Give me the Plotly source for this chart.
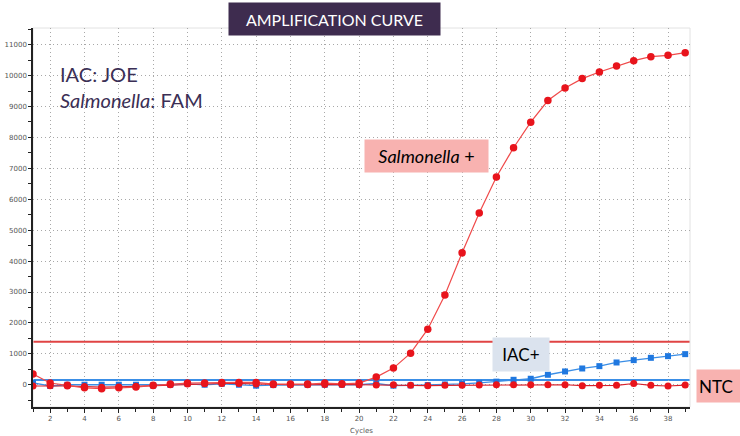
import plotly.graph_objects as go

cycles = list(range(1, 40))

salmonella_fam = [345, 55, -20, -100, -130, -100, -75, -20, 20, 55, 60, 75, 75, 75,
                  20, 20, 20, 55, 30, 55, 248, 538, 1022, 1796, 2903, 4268, 5558,
                  6720, 7667, 8495, 9194, 9602, 9903, 10118, 10312, 10484, 10613,
                  10655, 10742]

ntc_fam = [-40, -30, -40, -60, -80, -70, -50, -30, 0, 20, 30, 40, 40, 20, 0, 0, 0,
           10, 10, 0, -10, 0, -20, -30, -20, -20, -10, 0, 0, 0, 0, 0, -30, -20, -20,
           40, -20, -40, -10]

iac_joe = [60, -40, 0, 0, 0, 0, 0, -20, 0, 30, 0, 30, 0, -30, -10, 0, 0, 0, 0, 0,
           40, -30, -20, -10, 10, 30, 60, 100, 160, 194, 323, 430, 526, 602, 720,
           796, 871, 925, 990]

threshold_fam = 1390
threshold_joe = 150

y_ticks = list(range(0, 12000, 1000))
x_ticks = list(range(2, 40, 2))

RED = "#e8141c"
BLUE = "#1f78e0"
FONT = "Lato, 'Open Sans', sans-serif"

fig = go.Figure()

fig.add_trace(go.Scatter(x=cycles, y=iac_joe, mode="lines+markers", name="IAC+",
                         line=dict(color="#3a8ee6", width=1.3),
                         marker=dict(symbol="square", size=6, color=BLUE)))
fig.add_trace(go.Scatter(x=cycles, y=ntc_fam, mode="lines+markers", name="NTC",
                         line=dict(color="#d8202a", width=1.2),
                         marker=dict(symbol="circle", size=7, color=RED)))
fig.add_trace(go.Scatter(x=cycles, y=salmonella_fam, mode="lines+markers",
                         name="Salmonella +",
                         line=dict(color="#f04a4a", width=1.2),
                         marker=dict(symbol="circle", size=7.5, color=RED)))

# thresholds
fig.add_shape(type="line", xref="paper", x0=0, x1=1, yref="y",
              y0=threshold_fam, y1=threshold_fam,
              line=dict(color="#e04444", width=2), layer="below")
fig.add_shape(type="line", xref="paper", x0=0, x1=1, yref="y",
              y0=threshold_joe, y1=threshold_joe,
              line=dict(color="#3a8ee6", width=2), layer="below")
# faint outer frame
fig.add_shape(type="rect", xref="paper", yref="paper", x0=0, x1=1, y0=0, y1=1,
              line=dict(color="#e2e2e2", width=1), layer="below")

L, R, T, B = 33, 50, 28, 29
W, H = 740, 436
pw, ph = W - L - R, H - T - B


def px(x):
    return (x - L) / pw


def py(y):
    return (H - B - y) / ph


annotations = [
    dict(text="AMPLIFICATION CURVE", x=px(334.5), y=py(19), width=207, height=28,
         bgcolor="#3e2c4f", font=dict(color="white", size=16, family=FONT),
         borderpad=2),
    dict(text="IAC: JOE", x=px(58), y=py(74), xanchor="left",
         font=dict(color="#3b2f55", size=20, family=FONT)),
    dict(text="<i>Salmonella</i>: FAM", x=px(58), y=py(100), xanchor="left",
         font=dict(color="#3b2f55", size=20, family=FONT)),
    dict(text="<i>Salmonella</i> +", x=px(426), y=py(155.5), width=119, height=28,
         bgcolor="#f8b2b0", font=dict(color="black", size=18, family=FONT),
         borderpad=2),
    dict(text="IAC+", x=px(521), y=py(354), width=52, height=29,
         bgcolor="#dbe3ee", font=dict(color="black", size=17, family=FONT),
         borderpad=2),
    dict(text="NTC", x=px(696), y=py(386), xanchor="left", width=50, height=28,
         align="left",
         bgcolor="#f8b2b0", font=dict(color="black", size=17, family=FONT),
         borderpad=2),
]
for a in annotations:
    a.setdefault("showarrow", False)
    a.setdefault("xanchor", "center")
    a.setdefault("yanchor", "middle")
    a["xref"] = "paper"
    a["yref"] = "paper"

fig.update_layout(
    width=W, height=H,
    margin=dict(l=L, r=R, t=T, b=B, autoexpand=False),
    paper_bgcolor="white", plot_bgcolor="white",
    showlegend=False,
    annotations=annotations,
    font=dict(family="'DejaVu Sans', sans-serif", size=7, color="#555"),
)

GRID = dict(showgrid=True, gridcolor="#a8a8a8", griddash="1px,3px", gridwidth=1)

fig.update_xaxes(
    range=[1, 39.28], tickvals=x_ticks, ticktext=[str(v) for v in x_ticks],
    showline=True, linecolor="#222", linewidth=1.5,
    ticks="outside", ticklen=4, tickcolor="#222",
    minor=dict(dtick=1, tick0=1, ticks="outside", ticklen=3, tickcolor="#222",
               showgrid=False),
    zeroline=False, automargin=False,
    title=dict(text="Cycles", font=dict(size=7, color="#555"), standoff=6),
    tickfont=dict(size=7, color="#555"),
    **GRID,
)
fig.update_yaxes(
    range=[-720, 11540], tickvals=y_ticks, ticktext=[str(v) for v in y_ticks],
    showline=True, linecolor="#222", linewidth=1.5,
    ticks="outside", ticklen=3, tickcolor="#222",
    minor=dict(dtick=500, tick0=0, ticks="outside", ticklen=3, tickcolor="#222",
               showgrid=False),
    zeroline=False, automargin=False,
    tickfont=dict(size=7, color="#555"),
    **GRID,
)

fig.write_html("out.html",
               config={"displayModeBar": False},
               post_script="document.body.style.margin='0px';"
                           "document.body.style.overflow='hidden';")
